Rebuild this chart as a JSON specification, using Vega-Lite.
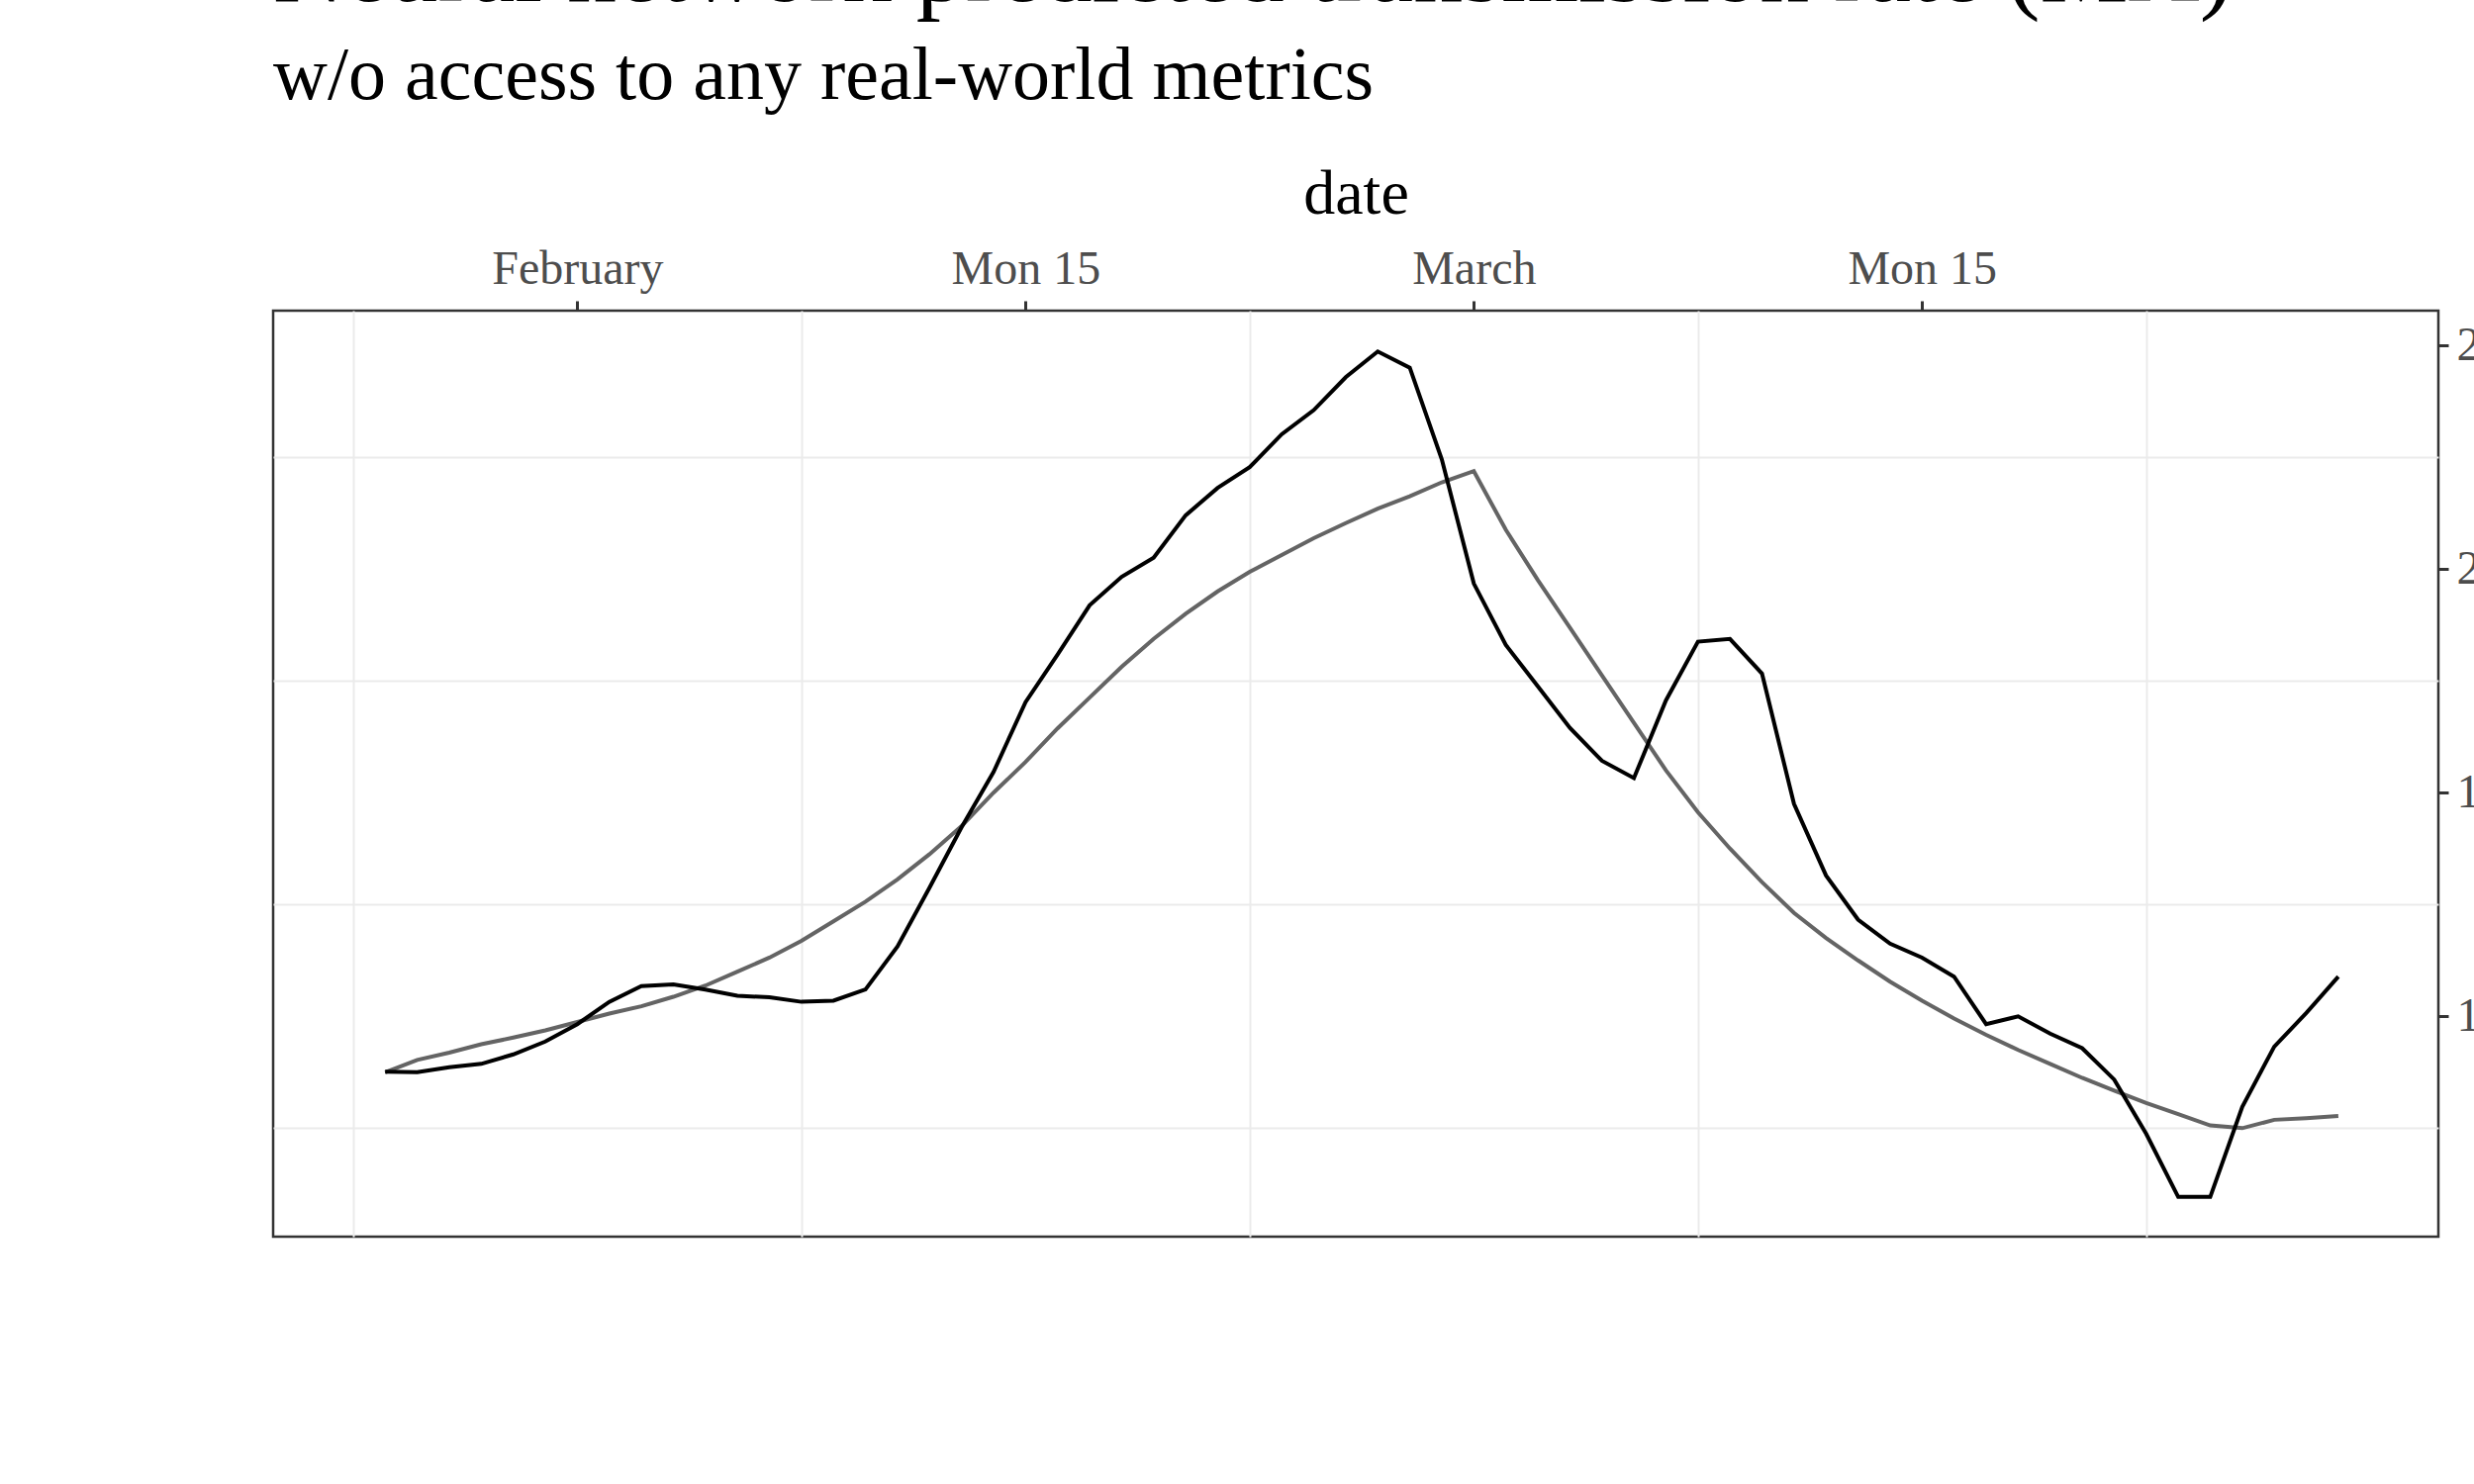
{
  "$schema": "https://vega.github.io/schema/vega-lite/v6.json",
  "width": 2188,
  "height": 936,
  "autosize": "none",
  "padding": {"left": 276, "top": 314, "right": 36, "bottom": 250},
  "background": "white",
  "title": {
    "text": "Neural network predicted transmission rate (MA)",
    "subtitle": "w/o access to any real-world metrics",
    "anchor": "start",
    "frame": "group",
    "font": "Liberation Serif",
    "fontSize": 100,
    "fontWeight": "normal",
    "subtitleFont": "Liberation Serif",
    "subtitleFontSize": 76,
    "subtitlePadding": 18,
    "offset": 48,
    "color": "black",
    "subtitleColor": "black"
  },
  "data": {
    "values": [
      {"date": "2021-01-26", "nn": 1.101, "trend": 1.10},
      {"date": "2021-01-27", "nn": 1.10, "trend": 1.122},
      {"date": "2021-01-28", "nn": 1.109, "trend": 1.135},
      {"date": "2021-01-29", "nn": 1.115, "trend": 1.15},
      {"date": "2021-01-30", "nn": 1.132, "trend": 1.162},
      {"date": "2021-01-31", "nn": 1.155, "trend": 1.175},
      {"date": "2021-02-01", "nn": 1.186, "trend": 1.19},
      {"date": "2021-02-02", "nn": 1.226, "trend": 1.205},
      {"date": "2021-02-03", "nn": 1.254, "trend": 1.218},
      {"date": "2021-02-04", "nn": 1.257, "trend": 1.235},
      {"date": "2021-02-05", "nn": 1.248, "trend": 1.255},
      {"date": "2021-02-06", "nn": 1.237, "trend": 1.28},
      {"date": "2021-02-07", "nn": 1.234, "trend": 1.305},
      {"date": "2021-02-08", "nn": 1.226, "trend": 1.335},
      {"date": "2021-02-09", "nn": 1.228, "trend": 1.37},
      {"date": "2021-02-10", "nn": 1.248, "trend": 1.405},
      {"date": "2021-02-11", "nn": 1.325, "trend": 1.445},
      {"date": "2021-02-12", "nn": 1.43, "trend": 1.49},
      {"date": "2021-02-13", "nn": 1.538, "trend": 1.54},
      {"date": "2021-02-14", "nn": 1.637, "trend": 1.60},
      {"date": "2021-02-15", "nn": 1.762, "trend": 1.655},
      {"date": "2021-02-16", "nn": 1.847, "trend": 1.715},
      {"date": "2021-02-17", "nn": 1.935, "trend": 1.77},
      {"date": "2021-02-18", "nn": 1.986, "trend": 1.825},
      {"date": "2021-02-19", "nn": 2.02, "trend": 1.875},
      {"date": "2021-02-20", "nn": 2.096, "trend": 1.92},
      {"date": "2021-02-21", "nn": 2.145, "trend": 1.96},
      {"date": "2021-02-22", "nn": 2.182, "trend": 1.995},
      {"date": "2021-02-23", "nn": 2.241, "trend": 2.025},
      {"date": "2021-02-24", "nn": 2.284, "trend": 2.055},
      {"date": "2021-02-25", "nn": 2.343, "trend": 2.082},
      {"date": "2021-02-26", "nn": 2.389, "trend": 2.108},
      {"date": "2021-02-27", "nn": 2.36, "trend": 2.13},
      {"date": "2021-02-28", "nn": 2.196, "trend": 2.155},
      {"date": "2021-03-01", "nn": 1.974, "trend": 2.175},
      {"date": "2021-03-02", "nn": 1.864, "trend": 2.07},
      {"date": "2021-03-03", "nn": 1.79, "trend": 1.98},
      {"date": "2021-03-04", "nn": 1.716, "trend": 1.895},
      {"date": "2021-03-05", "nn": 1.657, "trend": 1.81},
      {"date": "2021-03-06", "nn": 1.626, "trend": 1.725},
      {"date": "2021-03-07", "nn": 1.765, "trend": 1.64},
      {"date": "2021-03-08", "nn": 1.87, "trend": 1.565},
      {"date": "2021-03-09", "nn": 1.875, "trend": 1.50},
      {"date": "2021-03-10", "nn": 1.813, "trend": 1.44},
      {"date": "2021-03-11", "nn": 1.58, "trend": 1.385},
      {"date": "2021-03-12", "nn": 1.452, "trend": 1.34},
      {"date": "2021-03-13", "nn": 1.373, "trend": 1.30},
      {"date": "2021-03-14", "nn": 1.33, "trend": 1.262},
      {"date": "2021-03-15", "nn": 1.305, "trend": 1.228},
      {"date": "2021-03-16", "nn": 1.271, "trend": 1.196},
      {"date": "2021-03-17", "nn": 1.186, "trend": 1.167},
      {"date": "2021-03-18", "nn": 1.20, "trend": 1.14},
      {"date": "2021-03-19", "nn": 1.169, "trend": 1.115},
      {"date": "2021-03-20", "nn": 1.143, "trend": 1.09},
      {"date": "2021-03-21", "nn": 1.087, "trend": 1.067},
      {"date": "2021-03-22", "nn": 0.99, "trend": 1.045},
      {"date": "2021-03-23", "nn": 0.877, "trend": 1.025},
      {"date": "2021-03-24", "nn": 0.877, "trend": 1.005},
      {"date": "2021-03-25", "nn": 1.038, "trend": 1.0},
      {"date": "2021-03-26", "nn": 1.146, "trend": 1.015},
      {"date": "2021-03-27", "nn": 1.206, "trend": 1.018},
      {"date": "2021-03-28", "nn": 1.271, "trend": 1.022}
    ]
  },
  "transform": [{"fold": ["trend", "nn"], "as": ["series", "Rt"]}],
  "resolve": {"axis": {"x": "independent", "y": "independent"}},
  "layer": [
    {
      "mark": {"type": "rule", "opacity": 0},
      "encoding": {
        "x": {
          "field": "date", "type": "temporal",
          "scale": {"type": "utc", "domain": [{"year": 2021, "month": 1, "date": 22, "hours": 12, "utc": true}, {"year": 2021, "month": 3, "date": 31, "hours": 3, "utc": true}], "nice": false},
          "axis": {
            "orient": "bottom", "labels": false, "ticks": false, "domain": false, "title": null,
            "grid": true, "gridColor": "#ebebeb", "gridWidth": 2,
            "values": [
              {"year": 2021, "month": 1, "date": 25, "utc": true},
              {"year": 2021, "month": 2, "date": 8, "utc": true},
              {"year": 2021, "month": 2, "date": 22, "utc": true},
              {"year": 2021, "month": 3, "date": 8, "utc": true},
              {"year": 2021, "month": 3, "date": 22, "utc": true}
            ]
          }
        },
        "y": {
          "field": "Rt", "type": "quantitative",
          "scale": {"domain": [0.806, 2.462], "nice": false, "zero": false},
          "axis": {
            "orient": "left", "labels": false, "ticks": false, "domain": false, "title": null,
            "grid": true, "gridColor": "#ebebeb", "gridWidth": 2,
            "values": [1.0, 1.4, 1.8, 2.2]
          }
        }
      }
    },
    {
      "mark": {"type": "line", "strokeWidth": 4},
      "encoding": {
        "x": {
          "field": "date", "type": "temporal", "title": "date",
          "axis": {
            "values": [
              {"year": 2021, "month": 2, "date": 1, "utc": true},
              {"year": 2021, "month": 2, "date": 15, "utc": true},
              {"year": 2021, "month": 3, "date": 1, "utc": true},
              {"year": 2021, "month": 3, "date": 15, "utc": true}
            ],
            "format": "%b %d", "formatType": "utc"
          }
        },
        "y": {
          "field": "Rt", "type": "quantitative", "title": "Rt",
          "axis": {"values": [1.2, 1.6, 2.0, 2.4], "format": ".1f"}
        },
        "detail": {"field": "series"},
        "color": {
          "field": "series", "type": "nominal", "legend": null,
          "scale": {"domain": ["trend", "nn"], "range": ["#646464", "#000000"]}
        }
      }
    }
  ],
  "config": {
    "view": {"stroke": "#333333", "strokeWidth": 2.5},
    "axis": {
      "domain": false,
      "grid": true,
      "gridColor": "#ebebeb",
      "gridWidth": 4.5,
      "tickColor": "#333333",
      "tickWidth": 3,
      "tickSize": 10,
      "labelFont": "Liberation Serif",
      "labelFontSize": 48,
      "labelColor": "#4d4d4d",
      "labelPadding": 8,
      "titleFont": "Liberation Serif",
      "titleFontSize": 64,
      "titleFontWeight": "normal",
      "titleColor": "black"
    },
    "axisX": {"titlePadding": 20},
    "axisY": {"titlePadding": 26}
  }
}
